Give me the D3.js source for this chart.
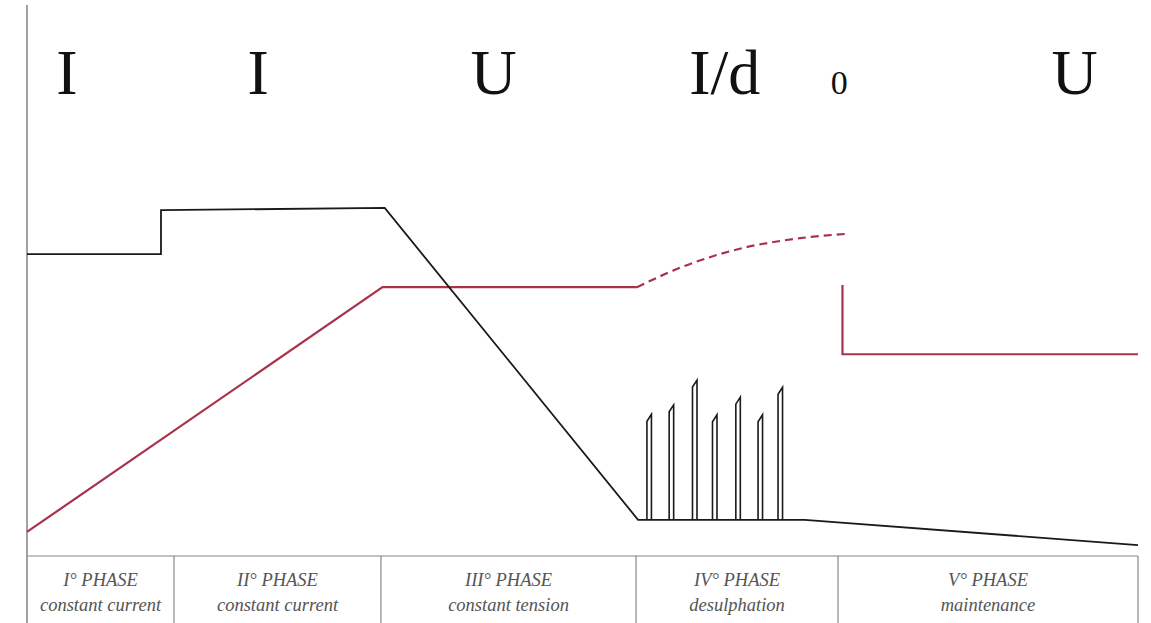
<!DOCTYPE html>
<html>
<head>
<meta charset="utf-8">
<script src="https://cdn.jsdelivr.net/npm/d3@7"></script>
<style>
  html, body { margin: 0; padding: 0; background: #fff; }
  svg { display: block; }
  .mode-label { font-family: "Liberation Serif", "DejaVu Serif", serif; fill: #111; }
  .phase-text { font-family: "Liberation Serif", "DejaVu Serif", serif; font-style: italic; fill: #555; font-size: 18.5px; }
</style>
</head>
<body>
<svg id="chart"></svg>
<script>
const width = 1151;
const height = 623;

// mode letters above the curve (x in time units 0..100)
const modeLabels = ['I', 'I', 'U', 'I/d', '0', 'U'];
const modeLabelX = [3.6, 20.8, 42.0, 62.8, 73.1, 94.3];

// phase table
const phaseTitles = ['I° PHASE', 'II° PHASE', 'III° PHASE', 'IV° PHASE', 'V° PHASE'];
const phaseNames = ['constant current', 'constant current', 'constant tension', 'desulphation', 'maintenance'];
const phaseBounds = [0, 13.23, 31.86, 54.82, 73.0, 100];

// current curve (black)
const currentT = [0, 12.06, 12.06, 32.2, 55.0, 70.0, 100];
const currentV = [54.7, 54.7, 62.7, 63.1, 6.4, 6.4, 1.8];

// desulphation pulses
const pulseT = [55.8, 57.8, 59.9, 61.7, 63.8, 65.8, 67.6];
const pulsePeak = [25.6, 27.3, 31.8, 25.5, 28.7, 25.5, 30.5];

// voltage curve (red)
const voltageT = [0, 32.0, 54.9];
const voltageV = [4.2, 48.7, 48.7];
const voltageDashT = [54.9, 59.0, 64.4, 69.6, 73.8];
const voltageDashV = [48.7, 52.4, 55.8, 57.6, 58.4];
const maintT = [73.4, 73.4, 100];
const maintV = [49.1, 36.5, 36.5];

const svg = d3.select('#chart').attr('width', width).attr('height', height);

const x = d3.scaleLinear().domain([0, 100]).range([27, 1138]);
const y = d3.scaleLinear().domain([0, 100]).range([555, 5]);
const tableTop = 556;

const line = d3.line().x((d) => x(d[0])).y((d) => y(d[1]));
const smooth = d3.line().curve(d3.curveMonotoneX).x((d) => x(d[0])).y((d) => y(d[1]));
const zip = (a, b) => a.map((v, i) => [v, b[i]]);

// vertical axis
svg.append('line')
  .attr('x1', x(0)).attr('x2', x(0))
  .attr('y1', y(100)).attr('y2', height)
  .attr('stroke', '#444').attr('stroke-width', 1);

// table borders
svg.append('line')
  .attr('x1', x(0)).attr('x2', x(100))
  .attr('y1', tableTop).attr('y2', tableTop)
  .attr('stroke', '#888').attr('stroke-width', 1.2);
svg.selectAll('.col-sep')
  .data(phaseBounds.slice(1))
  .join('line')
  .attr('class', 'col-sep')
  .attr('x1', (d) => x(d)).attr('x2', (d) => x(d))
  .attr('y1', tableTop).attr('y2', height)
  .attr('stroke', '#888').attr('stroke-width', 1.2);

const cells = svg.selectAll('.phase')
  .data(phaseTitles)
  .join('g')
  .attr('class', 'phase')
  .attr('transform', (d, i) => `translate(${(x(phaseBounds[i]) + x(phaseBounds[i + 1])) / 2}, 0)`);
cells.append('text').attr('class', 'phase-text')
  .attr('text-anchor', 'middle').attr('y', 586)
  .text((d) => d);
cells.append('text').attr('class', 'phase-text')
  .attr('text-anchor', 'middle').attr('y', 611)
  .text((d, i) => phaseNames[i]);

// mode labels
svg.selectAll('.mode-label')
  .data(modeLabels)
  .join('text')
  .attr('class', 'mode-label')
  .attr('text-anchor', 'middle')
  .attr('x', (d, i) => x(modeLabelX[i]))
  .attr('y', 94)
  .attr('font-size', (d) => (d === '0' ? 34 : 64))
  .text((d) => d);

const red = '#a8324a';

// voltage
svg.append('path').datum(zip(voltageT, voltageV))
  .attr('d', line).attr('fill', 'none').attr('stroke', red).attr('stroke-width', 2.2);
svg.append('path').datum(zip(voltageDashT, voltageDashV))
  .attr('d', smooth).attr('fill', 'none').attr('stroke', red).attr('stroke-width', 2.2)
  .attr('stroke-dasharray', '8 5');
svg.append('path').datum(zip(maintT, maintV))
  .attr('d', line).attr('fill', 'none').attr('stroke', red).attr('stroke-width', 2.2);

// current
svg.append('path').datum(zip(currentT, currentV))
  .attr('d', line).attr('fill', 'none').attr('stroke', '#1a1a1a').attr('stroke-width', 1.8);

// pulses
const base = currentV[4];
svg.selectAll('.pulse')
  .data(pulseT)
  .join('path')
  .attr('class', 'pulse')
  .attr('fill', 'none').attr('stroke', '#1a1a1a').attr('stroke-width', 1.6)
  .attr('d', (t, i) => {
    const x0 = x(t);
    const x1 = x0 + 4.5;
    const top = y(pulsePeak[i]);
    return `M${x0},${y(base)}L${x0},${top + 7}L${x1},${top}L${x1},${y(base)}`;
  });
</script>
</body>
</html>
